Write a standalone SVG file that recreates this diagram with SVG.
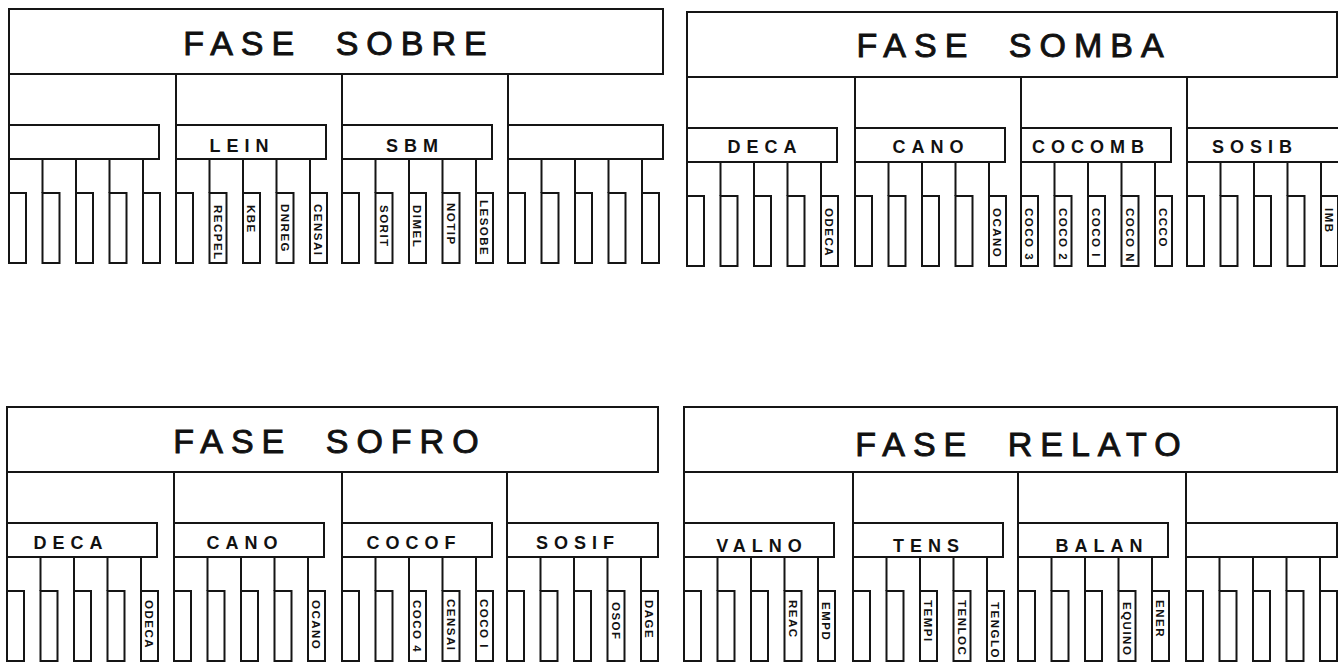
<svg xmlns="http://www.w3.org/2000/svg" width="1338" height="664" viewBox="0 0 1338 664">
<style>
.b{fill:#fff;stroke:#151515;stroke-width:2}
.c{fill:none;stroke:#151515;stroke-width:2}
.tt{font-family:"Liberation Sans",Arial,sans-serif;font-size:34px;letter-spacing:8px;word-spacing:16px;text-anchor:middle;fill:#111;stroke:#111;stroke-width:0.9px}
.gt{font-family:"Liberation Sans",Arial,sans-serif;font-size:18px;font-weight:bold;letter-spacing:6px;text-anchor:middle;fill:#111}
.lt{font-family:"Liberation Sans",Arial,sans-serif;font-size:11.5px;font-weight:bold;letter-spacing:1.5px;fill:#111}
</style>
<rect x="0" y="0" width="1338" height="664" fill="#fff"/>

<!-- PANEL 1 -->
<g id="panel-sobre" transform="translate(9,9)">
<g id="connectors-sobre">
<path class="c" d="M0,65V116M167,65V116M333,65V116M499,65V116
M0,150V184M33.5,150V184M67,150V184M100.5,150V184M134,150V184
M167,150V184M200.5,150V184M234,150V184M267.5,150V184M301,150V184
M333,150V184M366.5,150V184M400,150V184M433.5,150V184M467,150V184
M499,150V184M532.5,150V184M566,150V184M599.5,150V184M633,150V184"/>
</g>
<g id="sobre-title"><rect class="b" x="0" y="0" width="654" height="65"/><text class="tt" x="330" y="46">FASE SOBRE</text></g>
<g id="sobre-g1"><rect class="b" x="0" y="116" width="150" height="34"/></g>
<g id="sobre-lein"><rect class="b" x="167" y="116" width="150" height="34"/><text class="gt" x="233" y="143">LEIN</text></g>
<g id="sobre-sbm"><rect class="b" x="333" y="116" width="150" height="34"/><text class="gt" x="406" y="143">SBM</text></g>
<g id="sobre-g4"><rect class="b" x="499" y="116" width="155" height="34"/></g>
<g id="sobre-g1-leaves"><rect class="b" x="0" y="184" width="17" height="70"/><rect class="b" x="33.5" y="184" width="17" height="70"/><rect class="b" x="67" y="184" width="17" height="70"/><rect class="b" x="100.5" y="184" width="17" height="70"/><rect class="b" x="134" y="184" width="17" height="70"/></g>
<g id="lein-l1"><rect class="b" x="167" y="184" width="17" height="70"/></g>
<g id="recpel"><rect class="b" x="200.5" y="184" width="17" height="70"/><text class="lt" transform="translate(204.8,196) rotate(90)">RECPEL</text></g>
<g id="kbe"><rect class="b" x="234" y="184" width="17" height="70"/><text class="lt" transform="translate(238.3,196) rotate(90)">KBE</text></g>
<g id="dnreg"><rect class="b" x="267.5" y="184" width="17" height="70"/><text class="lt" transform="translate(271.8,195) rotate(90)">DNREG</text></g>
<g id="censai-1"><rect class="b" x="301" y="184" width="17" height="70"/><text class="lt" transform="translate(305.3,195) rotate(90)">CENSAI</text></g>
<g id="sbm-l1"><rect class="b" x="333" y="184" width="17" height="70"/></g>
<g id="sorit"><rect class="b" x="366.5" y="184" width="17" height="70"/><text class="lt" transform="translate(370.8,196) rotate(90)">SORIT</text></g>
<g id="dimel"><rect class="b" x="400" y="184" width="17" height="70"/><text class="lt" transform="translate(404.3,196) rotate(90)">DIMEL</text></g>
<g id="notip"><rect class="b" x="433.5" y="184" width="17" height="70"/><text class="lt" transform="translate(437.8,194) rotate(90)">NOTIP</text></g>
<g id="lesobe"><rect class="b" x="467" y="184" width="17" height="70"/><text class="lt" transform="translate(471.3,191) rotate(90)">LESOBE</text></g>
<g id="sobre-g4-leaves"><rect class="b" x="499" y="184" width="17" height="70"/><rect class="b" x="532.5" y="184" width="17" height="70"/><rect class="b" x="566" y="184" width="17" height="70"/><rect class="b" x="599.5" y="184" width="17" height="70"/><rect class="b" x="633" y="184" width="17" height="70"/></g>
</g>

<!-- PANEL 2 -->
<g id="panel-somba" transform="translate(687,12)">
<g id="connectors-somba">
<path class="c" d="M0,65V116M168,65V116M334,65V116M500,65V116
M0,150V184M33.5,150V184M67,150V184M100.5,150V184M134,150V184
M168,150V184M201.5,150V184M235,150V184M268.5,150V184M302,150V184
M334,150V184M367.5,150V184M401,150V184M434.5,150V184M468,150V184
M500,150V184M533.5,150V184M567,150V184M600.5,150V184M634,150V184"/>
</g>
<g id="somba-title"><rect class="b" x="0" y="0" width="650" height="65"/><text class="tt" x="327" y="45">FASE SOMBA</text></g>
<g id="somba-deca"><rect class="b" x="0" y="116" width="150" height="34"/><text class="gt" x="78" y="141">DECA</text></g>
<g id="somba-cano"><rect class="b" x="168" y="116" width="150" height="34"/><text class="gt" x="244" y="141">CANO</text></g>
<g id="somba-cocomb"><rect class="b" x="334" y="116" width="150" height="34"/><text class="gt" x="404" y="141">COCOMB</text></g>
<g id="somba-sosib"><rect class="b" x="500" y="116" width="154" height="34"/><text class="gt" x="568" y="141">SOSIB</text></g>
<g id="deca-1-leaves"><rect class="b" x="0" y="184" width="17" height="70"/><rect class="b" x="33.5" y="184" width="17" height="70"/><rect class="b" x="67" y="184" width="17" height="70"/><rect class="b" x="100.5" y="184" width="17" height="70"/></g>
<g id="odeca-1"><rect class="b" x="134" y="184" width="17" height="70"/><text class="lt" transform="translate(138.3,196) rotate(90)">ODECA</text></g>
<g id="cano-1-leaves"><rect class="b" x="168" y="184" width="17" height="70"/><rect class="b" x="201.5" y="184" width="17" height="70"/><rect class="b" x="235" y="184" width="17" height="70"/><rect class="b" x="268.5" y="184" width="17" height="70"/></g>
<g id="ocano-1"><rect class="b" x="302" y="184" width="17" height="70"/><text class="lt" transform="translate(306.3,196) rotate(90)">OCANO</text></g>
<g id="coco3"><rect class="b" x="334" y="184" width="17" height="70"/><text class="lt" transform="translate(338.3,196) rotate(90)">COCO 3</text></g>
<g id="coco2"><rect class="b" x="367.5" y="184" width="17" height="70"/><text class="lt" transform="translate(371.8,196) rotate(90)">COCO 2</text></g>
<g id="coco1-1"><rect class="b" x="401" y="184" width="17" height="70"/><text class="lt" transform="translate(405.3,196) rotate(90)">COCO I</text></g>
<g id="coconn"><rect class="b" x="434.5" y="184" width="17" height="70"/><text class="lt" transform="translate(438.8,196) rotate(90)">COCO N</text></g>
<g id="ccco"><rect class="b" x="468" y="184" width="17" height="70"/><text class="lt" transform="translate(472.3,196) rotate(90)">CCCO</text></g>
<g id="sosib-leaves"><rect class="b" x="500" y="184" width="17" height="70"/><rect class="b" x="533.5" y="184" width="17" height="70"/><rect class="b" x="567" y="184" width="17" height="70"/><rect class="b" x="600.5" y="184" width="17" height="70"/></g>
<g id="imb"><rect class="b" x="634" y="184" width="17" height="70"/><text class="lt" transform="translate(638.3,196) rotate(90)">IMB</text></g>
</g>

<!-- PANEL 3 -->
<g id="panel-sofro" transform="translate(7,407)">
<g id="connectors-sofro">
<path class="c" d="M0,65V116M167,65V116M335,65V116M500,65V116
M0,150V184M33.5,150V184M67,150V184M100.5,150V184M134,150V184
M167,150V184M200.5,150V184M234,150V184M267.5,150V184M301,150V184
M335,150V184M368.5,150V184M402,150V184M435.5,150V184M469,150V184
M500,150V184M533.5,150V184M567,150V184M600.5,150V184M634,150V184"/>
</g>
<g id="sofro-title"><rect class="b" x="0" y="0" width="651" height="65"/><text class="tt" x="323" y="46">FASE SOFRO</text></g>
<g id="sofro-deca"><rect class="b" x="0" y="116" width="150" height="34"/><text class="gt" x="64" y="142">DECA</text></g>
<g id="sofro-cano"><rect class="b" x="167" y="116" width="150" height="34"/><text class="gt" x="238" y="142">CANO</text></g>
<g id="sofro-cocof"><rect class="b" x="335" y="116" width="150" height="34"/><text class="gt" x="407" y="142">COCOF</text></g>
<g id="sofro-sosif"><rect class="b" x="500" y="116" width="151" height="34"/><text class="gt" x="571" y="142">SOSIF</text></g>
<g id="deca-2-leaves"><rect class="b" x="0" y="184" width="17" height="70"/><rect class="b" x="33.5" y="184" width="17" height="70"/><rect class="b" x="67" y="184" width="17" height="70"/><rect class="b" x="100.5" y="184" width="17" height="70"/></g>
<g id="odeca-2"><rect class="b" x="134" y="184" width="17" height="70"/><text class="lt" transform="translate(138.3,193) rotate(90)">ODECA</text></g>
<g id="cano-2-leaves"><rect class="b" x="167" y="184" width="17" height="70"/><rect class="b" x="200.5" y="184" width="17" height="70"/><rect class="b" x="234" y="184" width="17" height="70"/><rect class="b" x="267.5" y="184" width="17" height="70"/></g>
<g id="ocano-2"><rect class="b" x="301" y="184" width="17" height="70"/><text class="lt" transform="translate(305.3,193) rotate(90)">OCANO</text></g>
<g id="cocof-leaves"><rect class="b" x="335" y="184" width="17" height="70"/><rect class="b" x="368.5" y="184" width="17" height="70"/></g>
<g id="coco4"><rect class="b" x="402" y="184" width="17" height="70"/><text class="lt" transform="translate(406.3,193) rotate(90)">COCO 4</text></g>
<g id="censai-2"><rect class="b" x="435.5" y="184" width="17" height="70"/><text class="lt" transform="translate(439.8,192) rotate(90)">CENSAI</text></g>
<g id="coco1-2"><rect class="b" x="469" y="184" width="17" height="70"/><text class="lt" transform="translate(473.3,192) rotate(90)">COCO I</text></g>
<g id="sosif-leaves"><rect class="b" x="500" y="184" width="17" height="70"/><rect class="b" x="533.5" y="184" width="17" height="70"/><rect class="b" x="567" y="184" width="17" height="70"/></g>
<g id="osof"><rect class="b" x="600.5" y="184" width="17" height="70"/><text class="lt" transform="translate(604.8,195) rotate(90)">OSOF</text></g>
<g id="dage"><rect class="b" x="634" y="184" width="17" height="70"/><text class="lt" transform="translate(638.3,193) rotate(90)">DAGE</text></g>
</g>

<!-- PANEL 4 -->
<g id="panel-relato" transform="translate(684,407)">
<g id="connectors-relato">
<path class="c" d="M0,65V116M169,65V116M334,65V116M502,65V116
M0,150V184M33.5,150V184M67,150V184M100.5,150V184M134,150V184
M169,150V184M202.5,150V184M236,150V184M269.5,150V184M303,150V184
M334,150V184M367.5,150V184M401,150V184M434.5,150V184M468,150V184
M502,150V184M535.5,150V184M569,150V184M602.5,150V184M636,150V184"/>
</g>
<g id="relato-title"><rect class="b" x="0" y="0" width="653" height="65"/><text class="tt" x="338" y="49">FASE RELATO</text></g>
<g id="relato-valno"><rect class="b" x="0" y="116" width="150" height="34"/><text class="gt" x="78" y="145">VALNO</text></g>
<g id="relato-tens"><rect class="b" x="169" y="116" width="150" height="34"/><text class="gt" x="245" y="145">TENS</text></g>
<g id="relato-balan"><rect class="b" x="334" y="116" width="150" height="34"/><text class="gt" x="418" y="145">BALAN</text></g>
<g id="relato-g4"><rect class="b" x="502" y="116" width="151" height="34"/></g>
<g id="valno-leaves"><rect class="b" x="0" y="184" width="17" height="70"/><rect class="b" x="33.5" y="184" width="17" height="70"/><rect class="b" x="67" y="184" width="17" height="70"/></g>
<g id="reac"><rect class="b" x="100.5" y="184" width="17" height="70"/><text class="lt" transform="translate(104.8,193) rotate(90)">REAC</text></g>
<g id="empd"><rect class="b" x="134" y="184" width="17" height="70"/><text class="lt" transform="translate(138.3,195) rotate(90)">EMPD</text></g>
<g id="tens-leaves"><rect class="b" x="169" y="184" width="17" height="70"/><rect class="b" x="202.5" y="184" width="17" height="70"/></g>
<g id="tempi"><rect class="b" x="236" y="184" width="17" height="70"/><text class="lt" transform="translate(240.3,193) rotate(90)">TEMPI</text></g>
<g id="tenloc"><rect class="b" x="269.5" y="184" width="17" height="70"/><text class="lt" transform="translate(273.8,193) rotate(90)">TENLOC</text></g>
<g id="tenglo"><rect class="b" x="303" y="184" width="17" height="70"/><text class="lt" transform="translate(307.3,195) rotate(90)">TENGLO</text></g>
<g id="balan-leaves"><rect class="b" x="334" y="184" width="17" height="70"/><rect class="b" x="367.5" y="184" width="17" height="70"/><rect class="b" x="401" y="184" width="17" height="70"/></g>
<g id="equino"><rect class="b" x="434.5" y="184" width="17" height="70"/><text class="lt" transform="translate(438.8,195) rotate(90)">EQUINO</text></g>
<g id="ener"><rect class="b" x="468" y="184" width="17" height="70"/><text class="lt" transform="translate(472.3,193) rotate(90)">ENER</text></g>
<g id="relato-g4-leaves"><rect class="b" x="502" y="184" width="17" height="70"/><rect class="b" x="535.5" y="184" width="17" height="70"/><rect class="b" x="569" y="184" width="17" height="70"/><rect class="b" x="602.5" y="184" width="17" height="70"/><rect class="b" x="636" y="184" width="17" height="70"/></g>
</g>
</svg>
